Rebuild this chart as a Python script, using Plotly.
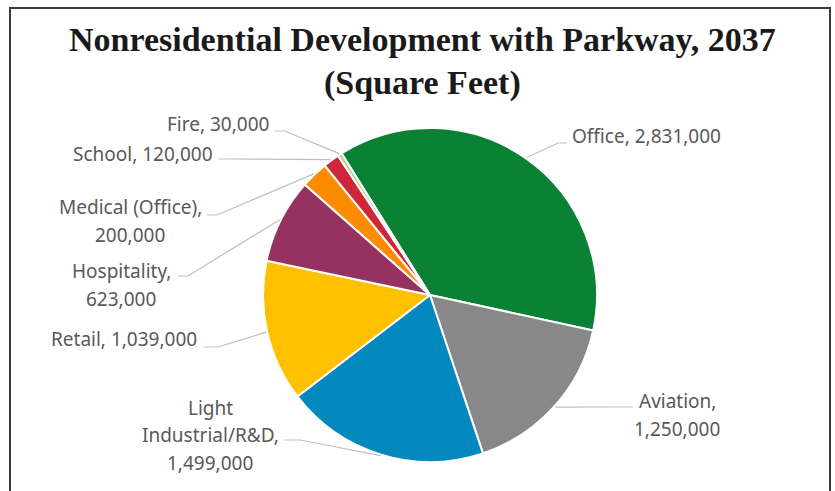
import math
import plotly.graph_objects as go

# data
categories = ['Office', 'Aviation', 'Light<br>Industrial/R&D', 'Retail', 'Hospitality',
              'Medical (Office)', 'School', 'Fire']
values = [2831000, 1250000, 1499000, 1039000, 623000, 200000, 120000, 30000]
colors = ['#0B8133', '#888888', '#0489BE', '#FFC000', '#96325F', '#FF8C00', '#D0263C', '#A9D18E']

W, H = 835, 491
CX, CY, R = 430, 295, 167
ROTATION = -32
LINE_H = 27.5

def px(x):
    return x / W

def py(y):
    return 1 - y / H

fig = go.Figure()
fig.add_trace(go.Pie(
    labels=[c.replace('<br>', ' ') for c in categories],
    values=values,
    sort=False,
    direction='clockwise',
    rotation=ROTATION,
    textinfo='none',
    marker=dict(colors=colors, line=dict(color='white', width=2)),
    domain=dict(x=[px(CX - R), px(CX + R)], y=[py(CY + R), py(CY - R)]),
    showlegend=False,
))

# edge point at the middle of each slice, for the leader lines
total = sum(values)
edges = []
start = ROTATION
for v in values:
    span = v / total * 360
    mid = math.radians(start + span / 2)
    edges.append((CX + (R + 1) * math.sin(mid), CY - (R + 1) * math.cos(mid)))
    start += span

# label placement: (text, x, y, xanchor, leader start, leader knee)
labels = [
    ('Office, 2,831,000', 570, 136, 'left', (567, 143), (558, 143)),
    ('Aviation,<br>1,250,000', 677, 415, 'center', (633, 407), (610, 407)),
    ('Light<br>Industrial/R&D,<br>1,499,000', 210, 435, 'center', (284, 440), (300, 440)),
    ('Retail, 1,039,000', 199, 339, 'right', (204, 347), (218, 347)),
    ('Hospitality,<br>623,000', 121, 285, 'center', (178, 276), (188, 276)),
    ('Medical (Office),<br>200,000', 130, 221, 'center', (207, 215), (217, 215)),
    ('School, 120,000', 215, 154, 'right', (219, 159), (229, 159)),
    ('Fire, 30,000', 271, 124, 'right', (275, 131), (285, 131)),
]

for (text, x, y, xa, p0, p1), edge in zip(labels, edges):
    rows = text.split('<br>')
    for i, row in enumerate(rows):
        yy = y + (i - (len(rows) - 1) / 2) * LINE_H
        fig.add_annotation(text=row, x=px(x), y=py(yy), xref='paper', yref='paper',
                           xanchor=xa, yanchor='middle', showarrow=False,
                           font=dict(family='Noto Sans', size=19, color='#595959'))
    path = 'M {:.4f},{:.4f} L {:.4f},{:.4f} L {:.4f},{:.4f}'.format(
        px(p0[0]), py(p0[1]), px(p1[0]), py(p1[1]), px(edge[0]), py(edge[1]))
    fig.add_shape(type='path', path=path, xref='paper', yref='paper',
                  line=dict(color='#BFBFBF', width=1.2))

# title lines
fig.add_annotation(text='<b>Nonresidential Development with Parkway, 2037</b>',
                   x=px(422), y=py(39), xref='paper', yref='paper', showarrow=False,
                   xanchor='center', yanchor='middle',
                   font=dict(family='Liberation Serif', size=34, color='#1A1A1A'))
fig.add_annotation(text='<b>(Square Feet)</b>',
                   x=px(422), y=py(83), xref='paper', yref='paper', showarrow=False,
                   xanchor='center', yanchor='middle',
                   font=dict(family='Liberation Serif', size=34, color='#1A1A1A'))

# frame
fig.add_shape(type='rect', x0=px(10), x1=px(830), y0=py(500), y1=py(8),
              xref='paper', yref='paper', line=dict(color='#3C3C3C', width=2))

fig.update_layout(
    width=W, height=H,
    margin=dict(l=0, r=0, t=0, b=0),
    paper_bgcolor='white',
    plot_bgcolor='white',
)

fig.write_html("out.html", config={'displayModeBar': False},
               post_script="document.body.style.margin='0px';")
